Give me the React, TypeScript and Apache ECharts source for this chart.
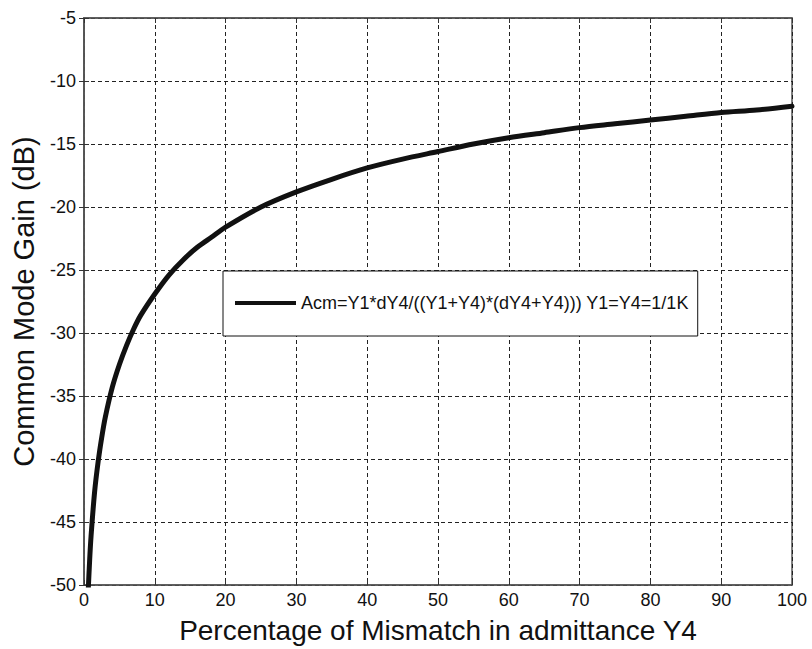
import React, { useEffect, useRef } from "react";
import * as echarts from "echarts";

// Percentage of mismatch in admittance Y4 (x) and common mode gain in dB (y)
const mismatchPct = [0.55, 0.8, 1, 1.5, 2, 2.5, 3, 4, 5, 6, 7, 8, 10, 12, 14, 16, 18, 20, 25, 30, 35, 40, 45, 50, 55, 60, 65, 70, 75, 80, 85, 90, 95, 100];
const gainDb = [-51, -48.0, -46.1, -42.6, -40.2, -38.3, -36.7, -34.3, -32.5, -31.0, -29.7, -28.6, -26.9, -25.4, -24.2, -23.2, -22.4, -21.6, -20.0, -18.8, -17.8, -16.9, -16.2, -15.6, -15.0, -14.5, -14.1, -13.7, -13.4, -13.1, -12.8, -12.5, -12.3, -12.0];

const seriesName = "Acm=Y1*dY4/((Y1+Y4)*(dY4+Y4))) Y1=Y4=1/1K";
const xTitle = "Percentage of Mismatch in admittance Y4";
const yTitle = "Common Mode Gain (dB)";

const FONT = "'Liberation Sans', Arial, Helvetica, sans-serif";

export default function App() {
  const ref = useRef<HTMLDivElement>(null);

  useEffect(() => {
    if (!ref.current) return;
    const chart = echarts.init(ref.current, null, { renderer: "svg" });
    const data = mismatchPct.map((x, i) => [x, gainDb[i]]);
    const splitLine = {
      show: true,
      lineStyle: { color: "#222", width: 1, type: [4, 3] as any },
    };
    chart.setOption({
      animation: false,
      backgroundColor: "#ffffff",
      textStyle: { fontFamily: FONT },
      grid: {
        left: 84,
        right: 20,
        top: 18,
        bottom: 64,
        show: true,
        borderColor: "#555",
        borderWidth: 1.5,
        backgroundColor: "#fff",
      },
      legend: {
        show: true,
        left: 223,
        top: 271,
        orient: "horizontal",
        padding: [23, 9, 24, 12],
        itemWidth: 61,
        itemHeight: 4,
        itemGap: 0,
        icon: "rect",
        backgroundColor: "#fff",
        borderColor: "#111",
        borderWidth: 1,
        borderRadius: 0,
        textStyle: {
          fontFamily: FONT,
          fontSize: 18,
          lineHeight: 18,
          color: "#111",
          padding: [0, 0, 0, 0],
        },
        data: [{ name: seriesName, icon: "rect", itemStyle: { color: "#111" } }],
      },
      xAxis: [
        {
          type: "value",
          min: 0,
          max: 100,
          interval: 10,
          position: "bottom",
          name: xTitle,
          nameLocation: "middle",
          nameGap: 31,
          nameTextStyle: { fontFamily: FONT, fontSize: 28, color: "#111" },
          axisLine: { show: true, lineStyle: { color: "#555", width: 1.5 } },
          axisTick: { show: true, inside: true, length: 5, lineStyle: { color: "#333" } },
          axisLabel: { fontFamily: FONT, fontSize: 18, color: "#111", margin: 6 },
          splitLine,
        },
        {
          type: "value",
          min: 0,
          max: 100,
          interval: 10,
          position: "top",
          axisLine: { show: true, lineStyle: { color: "#555", width: 1.5 } },
          axisTick: { show: true, inside: true, length: 5, lineStyle: { color: "#333" } },
          axisLabel: { show: false },
          splitLine: { show: false },
        },
      ],
      yAxis: [
        {
          type: "value",
          min: -50,
          max: -5,
          interval: 5,
          position: "left",
          name: yTitle,
          nameLocation: "middle",
          nameGap: 46,
          nameRotate: 90,
          nameTextStyle: { fontFamily: FONT, fontSize: 29, color: "#111" },
          axisLine: { show: true, lineStyle: { color: "#555", width: 1.5 } },
          axisTick: { show: true, inside: true, length: 5, lineStyle: { color: "#333" } },
          axisLabel: { fontFamily: FONT, fontSize: 18, color: "#111", margin: 8 },
          splitLine,
        },
        {
          type: "value",
          min: -50,
          max: -5,
          interval: 5,
          position: "right",
          axisLine: { show: true, lineStyle: { color: "#555", width: 1.5 } },
          axisTick: { show: true, inside: true, length: 5, lineStyle: { color: "#333" } },
          axisLabel: { show: false },
          splitLine: { show: false },
        },
      ],
      series: [
        {
          name: seriesName,
          type: "line",
          xAxisIndex: 0,
          yAxisIndex: 0,
          data,
          showSymbol: false,
          symbol: "none",
          smooth: 0.3,
          clip: true,
          lineStyle: { color: "#111", width: 5, cap: "round", join: "round" },
          itemStyle: { color: "#111" },
        },
      ],
    });
    return () => chart.dispose();
  }, []);

  return (
    <div
      ref={ref}
      style={{ position: "fixed", left: 0, top: 0, width: 812, height: 649, background: "#fff" }}
    />
  );
}
